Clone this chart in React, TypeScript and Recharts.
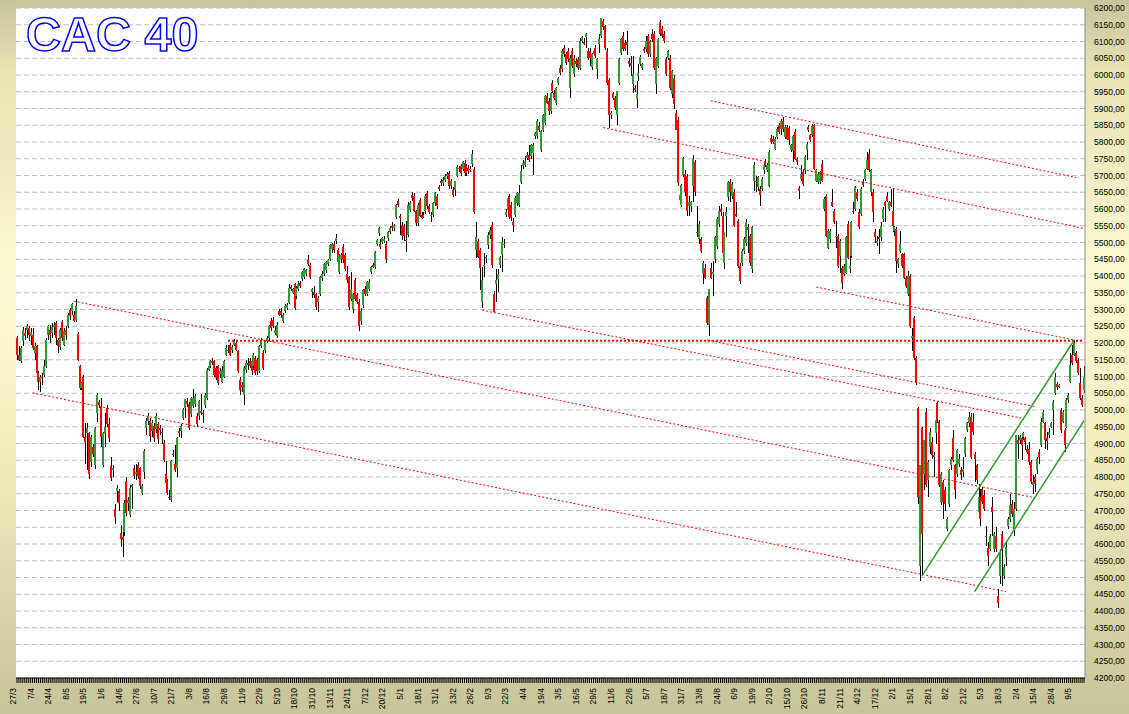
import React from 'react';
import { Bar, CartesianGrid, ComposedChart, ReferenceLine, XAxis, YAxis } from 'recharts';

// one session per entry: [open, high, low, close]
const mar06ToJun06 = [
  [5215, 5222, 5150, 5163], [5165, 5190, 5145, 5150], [5145, 5192, 5140, 5185], [5205, 5248, 5190, 5240],
  [5230, 5245, 5210, 5222], [5240, 5258, 5215, 5252], [5245, 5250, 5205, 5225], [5222, 5245, 5195, 5232],
  [5225, 5245, 5180, 5185], [5170, 5200, 5150, 5190], [5190, 5195, 5105, 5110], [5110, 5115, 5060, 5085],
  [5085, 5105, 5055, 5100], [5100, 5110, 5075, 5095], [5105, 5150, 5100, 5130], [5130, 5215, 5125, 5210],
  [5225, 5255, 5210, 5250], [5240, 5255, 5200, 5225], [5230, 5260, 5215, 5248], [5248, 5262, 5225, 5255],
  [5260, 5265, 5195, 5215], [5210, 5215, 5170, 5190], [5188, 5245, 5180, 5240], [5263, 5268, 5205, 5215],
  [5195, 5245, 5190, 5235], [5240, 5250, 5210, 5225], [5250, 5290, 5245, 5285], [5300, 5305, 5270, 5280],
  [5295, 5320, 5285, 5315], [5285, 5295, 5262, 5265], [5270, 5330, 5262, 5310], [5227, 5232, 5145, 5150],
  [5130, 5135, 5060, 5065], [5065, 5085, 5060, 5080], [5100, 5105, 4915, 4920], [4920, 4960, 4840, 4905],
  [4930, 4960, 4820, 4945], [4930, 4935, 4795, 4810], [4845, 4925, 4830, 4920], [4890, 4900, 4860, 4870],
  [4835, 4950, 4825, 4945], [4990, 5050, 4965, 5045], [5025, 5030, 5005, 5015], [5010, 5035, 4890, 4920],
  [4835, 4935, 4830, 4930], [4927, 4990, 4890, 4950], [5005, 5015, 4950, 4958], [4958, 4975, 4905, 4917],
];

const jun06ToAug06 = [
  [4834, 4860, 4787, 4797], [4820, 4835, 4800, 4827], [4705, 4720, 4660, 4682], [4757, 4775, 4725, 4767],
  [4757, 4765, 4700, 4722], [4632, 4657, 4592, 4615], [4622, 4637, 4562, 4612], [4637, 4730, 4625, 4722],
  [4787, 4800, 4685, 4692], [4722, 4740, 4700, 4732], [4687, 4775, 4680, 4767], [4770, 4780, 4705, 4777],
  [4827, 4835, 4795, 4802], [4810, 4840, 4790, 4815], [4837, 4845, 4795, 4802], [4827, 4830, 4765, 4772],
  [4752, 4780, 4745, 4772], [4815, 4885, 4795, 4879], [4947, 4975, 4925, 4967], [4967, 4990, 4955, 4982],
  [4967, 4975, 4905, 4922], [4937, 4970, 4920, 4962], [4952, 4960, 4905, 4917], [4942, 4990, 4930, 4982],
  [4957, 4965, 4900, 4912], [4945, 4955, 4925, 4940], [4935, 4945, 4900, 4930], [4902, 4910, 4845, 4852],
  [4809, 4847, 4775, 4782], [4787, 4795, 4745, 4752], [4740, 4762, 4732, 4737], [4732, 4850, 4725, 4847],
  [4870, 4880, 4860, 4865], [4839, 4897, 4815, 4822], [4827, 4920, 4800, 4917], [4937, 4945, 4920, 4932],
  [4937, 4957, 4915, 4952], [4977, 5005, 4970, 5002], [5007, 5032, 4977, 5032], [5027, 5035, 5010, 5017],
  [5017, 5025, 4940, 4947], [4987, 5040, 4980, 5037], [5012, 5062, 5005, 5037], [5017, 5047, 5010, 5042],
  [4982, 4990, 4950, 4957], [4982, 5030, 4970, 5027], [4997, 5047, 4985, 4990], [4992, 5000, 4960, 4987],
  [5015, 5050, 5005, 5045],
];

const aug06ToOct06 = [
  [5035, 5125, 5030, 5120], [5120, 5135, 5115, 5130], [5130, 5150, 5125, 5145], [5145, 5155, 5135, 5140],
  [5145, 5150, 5100, 5105], [5125, 5130, 5090, 5095], [5130, 5135, 5075, 5080], [5108, 5125, 5095, 5115],
  [5085, 5130, 5080, 5120], [5100, 5150, 5095, 5145], [5165, 5195, 5160, 5185], [5180, 5195, 5170, 5175],
  [5195, 5200, 5160, 5165], [5180, 5195, 5170, 5187], [5195, 5212, 5190, 5205], [5200, 5205, 5175, 5180],
  [5175, 5180, 5110, 5115], [5090, 5100, 5045, 5060], [5075, 5085, 5055, 5070], [5045, 5130, 5015, 5125],
  [5120, 5150, 5110, 5140], [5140, 5155, 5120, 5135], [5145, 5155, 5125, 5130], [5145, 5150, 5105, 5115],
  [5130, 5170, 5120, 5165], [5155, 5160, 5105, 5110], [5150, 5155, 5105, 5115], [5115, 5195, 5110, 5190],
  [5190, 5215, 5185, 5210], [5170, 5180, 5120, 5125], [5175, 5210, 5170, 5205], [5205, 5220, 5200, 5215],
  [5215, 5255, 5205, 5250], [5265, 5275, 5235, 5245], [5270, 5278, 5245, 5250], [5230, 5250, 5225, 5240],
  [5220, 5262, 5215, 5255], [5295, 5302, 5280, 5285], [5297, 5305, 5275, 5285], [5265, 5290, 5260, 5285],
  [5295, 5315, 5290, 5310], [5305, 5320, 5300, 5312], [5320, 5375, 5315, 5365], [5367, 5372, 5355, 5360],
  [5350, 5365, 5345, 5360], [5375, 5380, 5300, 5305], [5340, 5370, 5330, 5365], [5360, 5385, 5355, 5377],
  [5380, 5385, 5365, 5370],
];

const oct06ToDec06 = [
  [5392, 5415, 5385, 5412], [5397, 5425, 5390, 5422], [5407, 5420, 5400, 5417], [5447, 5462, 5430, 5437],
  [5432, 5440, 5390, 5397], [5352, 5365, 5335, 5362], [5352, 5370, 5335, 5342], [5347, 5350, 5300, 5307],
  [5322, 5340, 5292, 5334], [5347, 5400, 5340, 5397], [5395, 5415, 5385, 5407], [5407, 5440, 5400, 5437],
  [5417, 5445, 5410, 5442], [5437, 5452, 5430, 5447], [5452, 5495, 5445, 5492], [5480, 5500, 5470, 5495],
  [5497, 5505, 5470, 5477], [5504, 5525, 5495, 5512], [5477, 5485, 5435, 5442], [5412, 5465, 5405, 5462],
  [5452, 5470, 5440, 5462], [5487, 5495, 5440, 5447], [5462, 5470, 5415, 5422], [5407, 5430, 5380, 5387],
  [5397, 5400, 5300, 5307], [5330, 5412, 5325, 5360], [5302, 5350, 5290, 5347], [5387, 5395, 5325, 5332],
  [5342, 5350, 5315, 5322], [5322, 5330, 5237, 5252], [5267, 5305, 5255, 5297], [5312, 5360, 5305, 5357],
  [5362, 5370, 5340, 5347], [5347, 5385, 5340, 5382], [5362, 5390, 5355, 5382], [5412, 5430, 5405, 5427],
  [5432, 5440, 5425, 5427], [5427, 5475, 5420, 5472], [5497, 5510, 5490, 5507], [5527, 5545, 5520, 5542],
  [5497, 5510, 5480, 5487], [5502, 5515, 5495, 5512], [5505, 5518, 5500, 5510], [5497, 5505, 5440, 5452],
  [5512, 5535, 5505, 5532], [5532, 5548, 5525, 5544], [5550, 5560, 5535, 5542], [5542, 5555, 5535, 5550],
  [5577, 5615, 5570, 5612],
];

const dec06ToMar07 = [
  [5623, 5630, 5605, 5613], [5578, 5586, 5523, 5573], [5553, 5560, 5508, 5518], [5550, 5555, 5505, 5518],
  [5506, 5563, 5473, 5503], [5523, 5622, 5515, 5613], [5598, 5625, 5590, 5618], [5643, 5650, 5625, 5633],
  [5638, 5648, 5590, 5593], [5593, 5598, 5550, 5558], [5558, 5618, 5550, 5613], [5628, 5632, 5575, 5580],
  [5583, 5590, 5570, 5573], [5583, 5590, 5572, 5576], [5593, 5645, 5585, 5638], [5648, 5655, 5600, 5608],
  [5608, 5615, 5585, 5590], [5578, 5590, 5560, 5583], [5583, 5622, 5575, 5618], [5618, 5652, 5610, 5648],
  [5638, 5645, 5600, 5608], [5666, 5672, 5655, 5660], [5683, 5690, 5670, 5678], [5678, 5695, 5670, 5688],
  [5688, 5705, 5680, 5698], [5698, 5710, 5690, 5703], [5708, 5712, 5660, 5668], [5668, 5690, 5660, 5683],
  [5658, 5665, 5635, 5643], [5658, 5685, 5640, 5683], [5700, 5730, 5695, 5726], [5723, 5728, 5710, 5718],
  [5728, 5735, 5700, 5708], [5718, 5742, 5712, 5740], [5738, 5745, 5700, 5708], [5728, 5735, 5700, 5708],
  [5723, 5730, 5705, 5713], [5720, 5728, 5710, 5716], [5733, 5775, 5725, 5763], [5720, 5725, 5585, 5590],
  [5478, 5560, 5455, 5516], [5503, 5510, 5455, 5458], [5478, 5485, 5358, 5423], [5323, 5428, 5303, 5388],
  [5430, 5468, 5398, 5433], [5456, 5462, 5440, 5456], [5493, 5530, 5480, 5523], [5523, 5545, 5510, 5538],
  [5553, 5562, 5425, 5433],
];

const mar07ToMay07 = [
  [5347, 5355, 5290, 5292], [5377, 5422, 5322, 5387], [5390, 5420, 5352, 5405], [5432, 5460, 5425, 5457],
  [5462, 5517, 5412, 5502], [5492, 5510, 5485, 5497], [5582, 5600, 5575, 5592], [5597, 5640, 5590, 5632],
  [5637, 5645, 5570, 5577], [5612, 5620, 5565, 5572], [5562, 5572, 5532, 5552], [5582, 5640, 5575, 5632],
  [5617, 5650, 5610, 5647], [5612, 5672, 5605, 5647], [5682, 5732, 5675, 5712], [5727, 5745, 5720, 5737],
  [5732, 5757, 5725, 5742], [5752, 5770, 5745, 5762], [5762, 5792, 5740, 5747], [5757, 5795, 5750, 5792],
  [5767, 5797, 5702, 5792], [5817, 5830, 5810, 5827], [5817, 5870, 5810, 5862], [5847, 5860, 5830, 5837],
  [5777, 5835, 5770, 5832], [5837, 5885, 5830, 5882], [5857, 5940, 5850, 5937], [5937, 5945, 5912, 5917],
  [5922, 5930, 5880, 5892], [5892, 5950, 5885, 5947], [5977, 5985, 5945, 5952], [5947, 5955, 5925, 5932],
  [5917, 5965, 5910, 5962], [5977, 5995, 5970, 5992], [6022, 6030, 6000, 6007], [6017, 6077, 6010, 6072],
  [6082, 6090, 6055, 6062], [6062, 6070, 6030, 6037], [6072, 6080, 6040, 6047], [5962, 6060, 5932, 6052],
  [6072, 6080, 6020, 6027], [6002, 6060, 5995, 6052], [6042, 6050, 6025, 6032], [6047, 6055, 6015, 6022],
  [6022, 6110, 6015, 6102], [6102, 6115, 6095, 6112], [6100, 6110, 6090, 6094], [6112, 6125, 6080, 6122],
  [6072, 6080, 6045, 6052],
];

const may07ToJul07 = [
  [6072, 6082, 6027, 6052], [6024, 6065, 6015, 6062], [6072, 6078, 6058, 6062], [6082, 6090, 6050, 6057],
  [6017, 6050, 5987, 6047], [6092, 6122, 6067, 6107], [6117, 6170, 6110, 6170], [6162, 6168, 6135, 6142],
  [6147, 6150, 6075, 6082], [6072, 6080, 5970, 5977], [5984, 5990, 5842, 5882], [5882, 5892, 5870, 5887],
  [5947, 5950, 5925, 5932], [5932, 5938, 5895, 5902], [5882, 5952, 5852, 5952], [5977, 6052, 5970, 6047],
  [6067, 6110, 6060, 6107], [6117, 6127, 6072, 6077], [6097, 6105, 6072, 6077], [6100, 6132, 6060, 6090],
  [6042, 6050, 6025, 6032], [6037, 6057, 5997, 6027], [5972, 6057, 5947, 6002], [5962, 5970, 5950, 5954],
  [5927, 5982, 5902, 5942], [5997, 6032, 5982, 6007], [6034, 6060, 6028, 6054], [6022, 6035, 6015, 6032],
  [6077, 6085, 6065, 6072], [6077, 6117, 6070, 6102], [6117, 6122, 6055, 6062], [6062, 6105, 6055, 6102],
  [6122, 6137, 6100, 6107], [6122, 6130, 6015, 6022], [5972, 6055, 5942, 6052], [6027, 6110, 6020, 6107],
  [6157, 6165, 6115, 6122], [6137, 6145, 6110, 6117], [6122, 6130, 6095, 6102], [6047, 6055, 5997, 6002],
  [6052, 6075, 6045, 6072], [6052, 6060, 5955, 5962], [5942, 6015, 5930, 6012], [5992, 6000, 5900, 5912],
  [5887, 5895, 5835, 5837], [5867, 5875, 5670, 5677], [5627, 5645, 5612, 5642], [5612, 5675, 5605, 5672],
  [5702, 5755, 5695, 5752],
];

const jul07ToOct07 = [
  [5705, 5715, 5640, 5650], [5700, 5705, 5580, 5595], [5610, 5640, 5580, 5620], [5608, 5625, 5590, 5620],
  [5670, 5760, 5620, 5750], [5740, 5745, 5640, 5650], [5532, 5610, 5515, 5530], [5510, 5565, 5495, 5555],
  [5510, 5515, 5470, 5475], [5405, 5445, 5375, 5440], [5425, 5435, 5390, 5395], [5335, 5340, 5255, 5260],
  [5255, 5360, 5220, 5360], [5425, 5440, 5390, 5395], [5405, 5445, 5340, 5412], [5450, 5520, 5440, 5515],
  [5490, 5575, 5480, 5570], [5555, 5610, 5545, 5595], [5600, 5615, 5580, 5590], [5580, 5590, 5465, 5470],
  [5440, 5530, 5420, 5530], [5580, 5605, 5515, 5590], [5635, 5685, 5625, 5680], [5680, 5690, 5620, 5650],
  [5640, 5680, 5630, 5675], [5650, 5660, 5545, 5550], [5585, 5620, 5575, 5580], [5565, 5570, 5425, 5430],
  [5430, 5440, 5375, 5385], [5440, 5480, 5430, 5475], [5475, 5515, 5465, 5510], [5500, 5570, 5490, 5560],
  [5545, 5555, 5470, 5538], [5520, 5525, 5430, 5440], [5420, 5550, 5410, 5545], [5685, 5740, 5655, 5730],
  [5685, 5700, 5650, 5682], [5665, 5700, 5655, 5695], [5660, 5670, 5610, 5642], [5660, 5695, 5655, 5690],
  [5715, 5735, 5705, 5730], [5740, 5748, 5725, 5730], [5715, 5738, 5710, 5730], [5670, 5775, 5665, 5770],
  [5812, 5820, 5795, 5800], [5810, 5818, 5795, 5800], [5780, 5815, 5775, 5810], [5815, 5845, 5810, 5840],
  [5850, 5858, 5825, 5830],
];

const oct07ToDec07 = [
  [5840, 5870, 5820, 5862], [5862, 5875, 5830, 5840], [5815, 5850, 5810, 5845], [5845, 5850, 5805, 5810],
  [5842, 5848, 5790, 5805], [5775, 5795, 5770, 5790], [5772, 5820, 5740, 5818], [5830, 5838, 5745, 5750],
  [5750, 5755, 5730, 5740], [5662, 5670, 5630, 5655], [5690, 5730, 5685, 5705], [5710, 5715, 5670, 5675],
  [5715, 5760, 5705, 5755], [5775, 5800, 5745, 5795], [5845, 5850, 5830, 5835], [5820, 5825, 5800, 5805],
  [5820, 5855, 5815, 5848], [5850, 5855, 5715, 5720], [5685, 5720, 5680, 5715], [5680, 5710, 5675, 5705],
  [5680, 5712, 5675, 5710], [5735, 5745, 5680, 5685], [5600, 5635, 5595, 5630], [5640, 5645, 5515, 5520],
  [5485, 5540, 5480, 5535], [5510, 5540, 5500, 5535], [5620, 5660, 5605, 5610], [5595, 5600, 5555, 5560],
  [5515, 5565, 5485, 5520], [5520, 5525, 5425, 5430], [5460, 5510, 5410, 5505], [5425, 5430, 5360, 5380],
  [5405, 5435, 5400, 5430], [5410, 5520, 5405, 5515], [5555, 5565, 5450, 5455], [5420, 5495, 5410, 5430],
  [5460, 5565, 5455, 5560], [5595, 5620, 5585, 5590], [5600, 5670, 5595, 5665], [5652, 5660, 5625, 5630],
  [5590, 5600, 5540, 5545], [5585, 5665, 5580, 5660], [5680, 5690, 5665, 5672], [5690, 5720, 5685, 5715],
  [5720, 5770, 5715, 5745], [5765, 5780, 5710, 5715], [5650, 5720, 5640, 5715], [5652, 5660, 5560, 5590],
  [5530, 5540, 5500, 5515],
];

const dec07ToFeb08 = [
  [5500, 5520, 5490, 5505], [5515, 5540, 5465, 5510], [5515, 5560, 5505, 5550], [5570, 5605, 5560, 5600],
  [5620, 5625, 5560, 5610], [5640, 5650, 5620, 5625], [5600, 5625, 5595, 5620], [5620, 5660, 5605, 5610],
  [5595, 5660, 5530, 5550], [5535, 5550, 5520, 5545], [5540, 5545, 5410, 5445], [5435, 5455, 5425, 5450],
  [5475, 5535, 5470, 5495], [5465, 5470, 5425, 5430], [5465, 5470, 5390, 5395], [5395, 5400, 5365, 5370],
  [5345, 5415, 5340, 5400], [5400, 5405, 5245, 5250], [5215, 5245, 5175, 5220], [5275, 5280, 5150, 5155],
  [5155, 5160, 5075, 5080], [5005, 5010, 4720, 4740], [4535, 4835, 4490, 4835], [4945, 4950, 4510, 4630],
  [4810, 4910, 4760, 4910], [4995, 5005, 4770, 4775], [4790, 4850, 4740, 4845], [4890, 4945, 4870, 4935],
  [4905, 4920, 4855, 4865], [4860, 4875, 4800, 4865], [4930, 4975, 4900, 4970], [5020, 5025, 4960, 4970],
  [4965, 4970, 4770, 4775], [4725, 4815, 4715, 4810], [4785, 4790, 4675, 4725], [4760, 4770, 4700, 4720],
  [4645, 4680, 4640, 4675], [4720, 4825, 4710, 4820], [4835, 4860, 4820, 4855], [4915, 4940, 4845, 4850],
  [4835, 4840, 4735, 4760], [4810, 4885, 4800, 4880], [4840, 4870, 4830, 4855], [4820, 4830, 4790, 4805],
  [4815, 4860, 4800, 4825], [4870, 4920, 4860, 4915], [4940, 4965, 4935, 4960], [4960, 4995, 4950, 4980],
  [4980, 4990, 4855, 4860],
];

const feb08ToMay08 = [
  [4965, 4990, 4925, 4935], [4870, 4875, 4785, 4855], [4835, 4840, 4780, 4790], [4695, 4780, 4690, 4740],
  [4740, 4765, 4655, 4675], [4765, 4770, 4720, 4725], [4745, 4760, 4700, 4705], [4625, 4655, 4595, 4620],
  [4587, 4605, 4535, 4565], [4585, 4630, 4580, 4625], [4710, 4740, 4625, 4695], [4585, 4635, 4575, 4630],
  [4625, 4650, 4575, 4585], [4445, 4465, 4410, 4425], [4505, 4585, 4480, 4575], [4630, 4640, 4475, 4585],
  [4505, 4540, 4495, 4530], [4560, 4605, 4535, 4590], [4655, 4680, 4645, 4675], [4675, 4750, 4665, 4715],
  [4720, 4730, 4680, 4690], [4645, 4725, 4625, 4705], [4705, 4925, 4700, 4925], [4910, 4925, 4855, 4900],
  [4910, 4925, 4900, 4920], [4915, 4930, 4850, 4895], [4920, 4935, 4910, 4930], [4915, 4920, 4880, 4905],
  [4885, 4895, 4870, 4875], [4885, 4905, 4835, 4845], [4845, 4850, 4780, 4785], [4775, 4805, 4750, 4785],
  [4800, 4810, 4755, 4780], [4820, 4860, 4810, 4855], [4875, 4885, 4840, 4860], [4895, 4975, 4890, 4965],
  [4965, 5000, 4960, 4995], [4960, 4965, 4885, 4910], [4915, 4935, 4880, 4907], [4925, 4945, 4915, 4935],
  [4950, 4965, 4945, 4960], [5000, 5030, 4925, 5025], [5050, 5110, 5045, 5100], [5077, 5085, 5060, 5070],
  [5070, 5078, 5065, 5075], [5000, 5005, 4930, 4940], [4965, 5000, 4960, 4995], [4940, 4945, 4875, 4895],
  [4950, 5035, 4945, 5030], [5030, 5050, 5020, 5045], [5085, 5170, 5080, 5135], [5165, 5195, 5135, 5140],
  [5165, 5210, 5160, 5200], [5170, 5175, 5140, 5145], [5150, 5155, 5105, 5110], [5080, 5125, 5030, 5035],
  [5035, 5045, 5010, 5015], [5060, 5130, 5050, 5100],
];

// one label every 9 sessions
const dateLabels = [
  '27/3', '7/4', '24/4', '8/5', '19/5', '1/6', '14/6', '27/6', '10/7', '21/7', '3/8', '16/8', '29/8',
  '11/9', '22/9', '5/10', '18/10', '31/10', '13/11', '24/11', '7/12', '20/12', '5/1', '18/1', '31/1',
  '13/2', '26/2', '9/3', '22/3', '4/4', '19/4', '3/5', '16/5', '29/5', '11/6', '22/6', '5/7', '18/7',
  '31/7', '13/8', '24/8', '6/9', '19/9', '2/10', '15/10', '26/10', '8/11', '21/11', '4/12', '17/12',
  '2/1', '15/1', '28/1', '8/2', '21/2', '5/3', '18/3', '2/4', '15/4', '28/4', '9/5',
];

const yTicks = [
  4200, 4250, 4300, 4350, 4400, 4450, 4500, 4550, 4600, 4650, 4700, 4750, 4800, 4850, 4900, 4950,
  5000, 5050, 5100, 5150, 5200, 5250, 5300, 5350, 5400, 5450, 5500, 5550, 5600, 5650, 5700, 5750,
  5800, 5850, 5900, 5950, 6000, 6050, 6100, 6150, 6200,
];

// [startBar, startValue, endBar, endValue]
const redChannels = [
  [355, 5923, 542, 5694],
  [300, 5843, 546, 5542],
  [409, 5367, 541, 5209],
  [353, 5209, 521, 5010],
  [238, 5298, 514, 4976],
  [29, 5325, 521, 4738],
  [8, 5051, 506, 4458],
];
const resistance = [108, 5207, 546, 5207];
const greenChannels = [
  [463, 4504, 541, 5209],
  [490, 4458, 546, 4968],
];

const RED = '#FF0000';
const GREEN = '#339933';
const FONT = "'Liberation Sans', Arial, sans-serif";

const bars = [
  ...mar06ToJun06, ...jun06ToAug06, ...aug06ToOct06, ...oct06ToDec06, ...dec06ToMar07, ...mar07ToMay07,
  ...may07ToJul07, ...jul07ToOct07, ...oct07ToDec07, ...dec07ToFeb08, ...feb08ToMay08,
];

const data = bars.map(([open, high, low, close], i) => ({ i, open, high, low, close, range: [low, high] }));

function Candle(props: any) {
  const { x, y, width, height, payload } = props;
  if (!payload) return <g />;
  const { open, high, low, close } = payload;
  const top = Math.min(y, y + height);
  const span = Math.abs(height);
  const k = high === low ? 0 : span / (high - low);
  const py = (v: number) => top + (high - v) * k;
  const bx = Math.round(x + width / 2 - 1);
  const bTop = py(Math.max(open, close));
  const bBot = py(Math.min(open, close));
  return (
    <g shapeRendering="crispEdges">
      <rect x={bx + 1} y={top} width={1} height={Math.max(span, 1)} fill="#000" />
      <rect x={bx} y={bTop} width={2} height={Math.max(bBot - bTop, 1)} fill={close >= open ? GREEN : RED} />
    </g>
  );
}

function DateTick(props: any) {
  const { x, y, payload } = props;
  const idx = Number(payload?.value);
  if (idx % 9 !== 0 || !dateLabels[idx / 9]) return <g />;
  const tx = x - 1;
  const ty = y + 3;
  return (
    <text x={tx} y={ty} transform={`rotate(-90 ${tx} ${ty})`} textAnchor="end" fontSize={8.5} fontFamily={FONT} fill="#000">
      {dateLabels[idx / 9]}
    </text>
  );
}

export default function App() {
  return (
    <div
      style={{
        position: 'fixed',
        left: 0,
        top: 0,
        width: 1129,
        height: 714,
        background: 'linear-gradient(180deg, #C6C49A 0%, #E6E4B4 10%, #FCFAD0 40%, #F2F0C0 62%, #C6C499 100%)',
      }}
    >
      <ComposedChart width={1129} height={714} data={data} margin={{ top: 8, right: 0, bottom: 0, left: 16 }} barCategoryGap={0}>
        <CartesianGrid yAxisId="r" vertical={false} stroke="#BDBDBD" strokeDasharray="5 3" fill="#FFFFFF" />
        <XAxis
          dataKey="i"
          interval={0}
          height={36}
          tickSize={5}
          tickLine={{ stroke: '#000' }}
          axisLine={{ stroke: '#000' }}
          tick={(p: any) => <DateTick {...p} />}
        />
        <YAxis
          yAxisId="l"
          orientation="left"
          width={0}
          domain={[4200, 6200]}
          ticks={yTicks}
          interval={0}
          allowDataOverflow
          tickSize={4}
          tickLine={{ stroke: '#000' }}
          axisLine={{ stroke: '#000' }}
          tick={() => <g />}
        />
        <YAxis
          yAxisId="r"
          orientation="right"
          width={44}
          domain={[4200, 6200]}
          ticks={yTicks}
          interval={0}
          allowDataOverflow
          tickLine={false}
          tickSize={6}
          tickMargin={3}
          axisLine={{ stroke: '#8C8C8C' }}
          tickFormatter={(v: number) => `${v},00`}
          tick={{ fontSize: 8.5, fill: '#000', fontFamily: FONT }}
        />
        {redChannels.map(([x1, y1, x2, y2], n) => (
          <ReferenceLine
            key={`red-${n}`}
            yAxisId="r"
            ifOverflow="visible"
            segment={[{ x: x1, y: y1 }, { x: x2, y: y2 }]}
            stroke={RED}
            strokeWidth={1}
            strokeDasharray="2 2"
          />
        ))}
        <ReferenceLine
          yAxisId="r"
          ifOverflow="visible"
          segment={[{ x: resistance[0], y: resistance[1] }, { x: resistance[2], y: resistance[3] }]}
          stroke={RED}
          strokeWidth={2}
          strokeDasharray="2 2"
        />
        {greenChannels.map(([x1, y1, x2, y2], n) => (
          <ReferenceLine
            key={`green-${n}`}
            yAxisId="r"
            ifOverflow="visible"
            segment={[{ x: x1, y: y1 }, { x: x2, y: y2 }]}
            stroke="#2E9B2E"
            strokeWidth={1.5}
          />
        ))}
        <Bar yAxisId="r" dataKey="range" shape={(p: any) => <Candle {...p} />} isAnimationActive={false} />
      </ComposedChart>
      <svg width={260} height={70} style={{ position: 'absolute', left: 0, top: 0 }}>
        <text x={26} y={51} fontFamily={FONT} fontWeight="bold" fontSize={48.5} fill="#FFFFFF" stroke="#0000FF" strokeWidth={1.5}>
          CAC 40
        </text>
      </svg>
    </div>
  );
}
